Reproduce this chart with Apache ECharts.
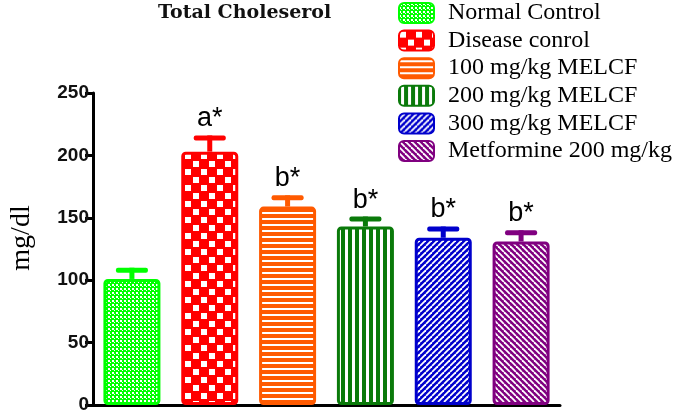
<!DOCTYPE html>
<html>
<head>
<meta charset="utf-8">
<script src="https://cdn.jsdelivr.net/npm/echarts@6/dist/echarts.min.js"></script>
<style>
html,body{margin:0;padding:0;background:#fff;}
#chart{width:685px;height:414px;}
</style>
</head>
<body>
<div id="chart"></div>
<script>
// ---- data ----
const categories = ['Normal Control', 'Disease conrol', '100 mg/kg MELCF', '200 mg/kg MELCF', '300 mg/kg MELCF', 'Metformine 200 mg/kg'];
const means = [101, 203, 159, 143, 134, 131];
const sems = [9, 13, 9, 8, 9, 9];
const sigLabels = ['', 'a*', 'b*', 'b*', 'b*', 'b*'];
const yTicks = [0, 50, 100, 150, 200, 250];
const chartTitle = 'Total Choleserol';
const yName = 'mg/dl';

// ---- styles ----
const barColors = ['#00ff00', '#ff0000', '#ff5a00', '#0a7a0a', '#0000cc', '#800080'];

function makePattern(bg, w, h, draw) {
  const c = document.createElement('canvas');
  c.width = w; c.height = h;
  const ctx = c.getContext('2d');
  ctx.fillStyle = bg; ctx.fillRect(0, 0, w, h);
  ctx.fillStyle = '#ffffff'; ctx.strokeStyle = '#ffffff';
  draw(ctx, w, h);
  return { image: c, repeat: 'repeat' };
}
const patterns = [
  makePattern(barColors[0], 4, 4, (ctx) => { ctx.fillRect(0, 0, 2, 2); ctx.fillRect(2, 2, 1, 1); }),
  makePattern(barColors[1], 16, 16, (ctx) => { ctx.fillRect(1, 1, 6, 6); ctx.fillRect(9, 9, 6, 6); }),
  makePattern(barColors[2], 6, 6, (ctx) => { ctx.fillRect(0, 2, 6, 2); }),
  makePattern(barColors[3], 7, 7, (ctx) => { ctx.fillRect(2, 0, 3, 7); }),
  makePattern(barColors[4], 6, 6, (ctx) => {
    ctx.lineWidth = 1.8;
    for (let k = -1; k <= 1; k++) { ctx.beginPath(); ctx.moveTo(k * 6, 6); ctx.lineTo(k * 6 + 6, 0); ctx.stroke(); }
  }),
  makePattern(barColors[5], 6, 6, (ctx) => {
    ctx.lineWidth = 1.8;
    for (let k = -1; k <= 1; k++) { ctx.beginPath(); ctx.moveTo(k * 6, 0); ctx.lineTo(k * 6 + 6, 6); ctx.stroke(); }
  })
];

const barSeries = categories.map((name, i) => ({
  name: name,
  type: 'bar',
  barWidth: 57,
  barGap: '-100%',
  data: categories.map((_, j) => (j === i ? means[j] : '-')),
  itemStyle: {
    color: patterns[i],
    borderColor: barColors[i],
    borderWidth: 3,
    borderRadius: 3
  },
  z: 3
}));

const errData = means.map((m, i) => [i, m, m + sems[i]]);

const errSeries = {
  type: 'custom',
  name: 'err',
  data: errData,
  z: 2,
  renderItem: function (params, api) {
    const i = api.value(0);
    const p0 = api.coord([i, api.value(1)]);
    const p1 = api.coord([i, api.value(2)]);
    const col = barColors[params.dataIndex];
    const children = [
      { type: 'rect', shape: { x: p0[0] - 2.5, y: p1[1], width: 5, height: p0[1] - p1[1] }, style: { fill: col } },
      { type: 'rect', shape: { x: p0[0] - 16, y: p1[1], width: 32, height: 5, r: 2 }, style: { fill: col } }
    ];
    const lab = sigLabels[params.dataIndex];
    if (lab) {
      children.push({
        type: 'text',
        style: {
          x: p0[0], y: p1[1] - 3, text: lab,
          fill: '#000', align: 'center', verticalAlign: 'bottom',
          font: '27px "Liberation Sans", Arial, sans-serif'
        }
      });
    }
    return { type: 'group', children: children };
  }
};

const chart = echarts.init(document.getElementById('chart'), null, { renderer: 'canvas' });
chart.setOption({
  animation: false,
  backgroundColor: '#ffffff',
  title: {
    text: chartTitle,
    left: 158, top: 4, padding: 0,
    textStyle: { fontFamily: '"DejaVu Serif", serif', fontWeight: 'bold', fontSize: 19, color: '#111' }
  },
  legend: {
    data: categories,
    orient: 'vertical',
    left: 398, top: 1, padding: 0,
    icon: 'roundRect',
    itemWidth: 35, itemHeight: 20, itemGap: 3.6,
    itemStyle: { borderWidth: 2 },
    textStyle: { fontFamily: '"Liberation Serif", serif', fontSize: 24, color: '#000', padding: [0, 0, 0, 9] }
  },
  grid: { left: 93, right: 125, top: 93, bottom: 9, outerBoundsMode: 'none', containLabel: false },
  xAxis: {
    type: 'category',
    data: categories,
    axisLine: { lineStyle: { color: '#000', width: 3 } },
    axisTick: { alignWithLabel: true, length: 7, lineStyle: { color: '#000', width: 3 } },
    axisLabel: { show: false },
    splitLine: { show: false }
  },
  yAxis: {
    type: 'value',
    min: yTicks[0], max: yTicks[yTicks.length - 1], interval: 50,
    name: yName,
    nameLocation: 'middle',
    nameGap: 57,
    nameRotate: 90,
    nameTextStyle: { fontFamily: '"Liberation Serif", serif', fontSize: 28, color: '#000', padding: [0, 0, 0, 22] },
    axisLine: { show: true, lineStyle: { color: '#000', width: 3 } },
    axisTick: { show: true, length: 8, lineStyle: { color: '#000', width: 3 } },
    axisLabel: { margin: 4, fontFamily: '"Liberation Sans", Arial, sans-serif', fontWeight: 'bold', fontSize: 19, color: '#111' },
    splitLine: { show: false }
  },
  series: barSeries.concat([errSeries])
});
</script>
</body>
</html>
